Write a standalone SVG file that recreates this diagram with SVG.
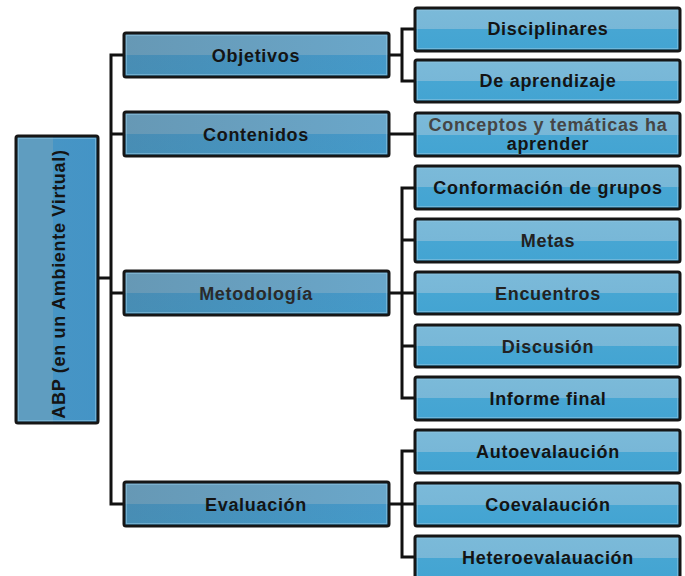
<svg xmlns="http://www.w3.org/2000/svg" width="685" height="576" viewBox="0 0 685 576">
<style>
.l1 { fill: url(#g1); stroke: #161616; stroke-width: 3; }
.l2 { fill: url(#g2); stroke: #161616; stroke-width: 3; }
.rt { fill: url(#gr); stroke: #161616; stroke-width: 3; }
.ins { fill: none; stroke: #8cc3e0; stroke-width: 1; opacity: 0.6; }
.sh { fill: url(#gh); }
.t { font-family: "Liberation Sans", Arial, sans-serif; font-weight: bold; font-size: 18px; letter-spacing: 0.7px; fill: #141414; text-anchor: middle; }
.c { fill: none; stroke: #111; stroke-width: 3; stroke-linecap: square; }
</style>
<defs>
<linearGradient id="g1" x1="0" y1="0" x2="0" y2="1">
<stop offset="0" stop-color="#6aa7ca"/><stop offset="0.5" stop-color="#6aa7ca"/>
<stop offset="0.5" stop-color="#4699c9"/><stop offset="1" stop-color="#449ac9"/>
</linearGradient>
<linearGradient id="g2" x1="0" y1="0" x2="0" y2="1">
<stop offset="0" stop-color="#7bbad9"/><stop offset="0.5" stop-color="#78b7d7"/>
<stop offset="0.5" stop-color="#47a6d3"/><stop offset="1" stop-color="#43a4d2"/>
</linearGradient>
<linearGradient id="gr" x1="0" y1="0" x2="1" y2="0">
<stop offset="0" stop-color="#5f9dc0"/><stop offset="0.45" stop-color="#5f9dc0"/>
<stop offset="0.45" stop-color="#4795c5"/><stop offset="1" stop-color="#4494c6"/>
</linearGradient>
<linearGradient id="gh" x1="0" y1="0" x2="1" y2="0">
<stop offset="0" stop-color="#555" stop-opacity="0.18"/><stop offset="1" stop-color="#555" stop-opacity="0"/>
</linearGradient>
</defs>

<g id="connectors">
<path class="c" d="M98 278H111M111 55V504M111 55H124M111 134H124M111 293H124M111 504H124"/>
<path class="c" d="M389 55H402M402 29V81M402 29H415M402 81H415"/>
<path class="c" d="M389 134H415"/>
<path class="c" d="M389 293H402M402 188V398M402 188H415M402 240H415M402 293H415M402 346H415M402 398H415"/>
<path class="c" d="M389 504H402M402 451V557M402 451H415M402 504H415M402 557H415"/>
</g>

<g id="root">
<rect class="rt" x="16" y="136" width="82" height="287" rx="2"/>
<rect class="ins" x="18.5" y="138.5" width="77" height="282"/>
<text class="t" letter-spacing="0.4" transform="translate(65,284) rotate(-90)">ABP (en un Ambiente Virtual)</text>
</g>

<g id="objetivos">
<rect class="l1" x="124" y="33" width="265" height="44" rx="2"/>
<rect class="sh" x="125.5" y="34.5" width="262" height="41"/>
<rect class="ins" x="126.5" y="35.5" width="260" height="39"/>
<text class="t" x="256" y="62">Objetivos</text>
</g>
<g id="contenidos">
<rect class="l1" x="124" y="112" width="265" height="44" rx="2"/>
<rect class="sh" x="125.5" y="113.5" width="262" height="41"/>
<rect class="ins" x="126.5" y="114.5" width="260" height="39"/>
<text class="t" x="256" y="141">Contenidos</text>
</g>
<g id="metodologia">
<rect class="l1" x="124" y="271" width="265" height="44" rx="2"/>
<rect class="sh" x="125.5" y="272.5" width="262" height="41"/>
<rect class="ins" x="126.5" y="273.5" width="260" height="39"/>
<text class="t" x="256" y="300" fill="#2a2a2a" style="fill:#2a2a2a">Metodología</text>
</g>
<g id="evaluacion">
<rect class="l1" x="124" y="482" width="265" height="44" rx="2"/>
<rect class="sh" x="125.5" y="483.5" width="262" height="41"/>
<rect class="ins" x="126.5" y="484.5" width="260" height="39"/>
<text class="t" x="256" y="511">Evaluación</text>
</g>

<g id="disciplinares">
<rect class="l2" x="415" y="8" width="265" height="43" rx="2"/>
<rect class="ins" x="417.5" y="10.5" width="260" height="38"/>
<text class="t" x="548" y="35">Disciplinares</text>
</g>
<g id="de-aprendizaje">
<rect class="l2" x="415" y="60" width="265" height="42" rx="2"/>
<rect class="ins" x="417.5" y="62.5" width="260" height="37"/>
<text class="t" x="548" y="87">De aprendizaje</text>
</g>
<g id="conceptos">
<rect class="l2" x="415" y="113" width="265" height="43" rx="2"/>
<rect class="ins" x="417.5" y="115.5" width="260" height="38"/>
<text class="t" x="548" y="131" style="fill:#454545">Conceptos y temáticas ha</text>
<text class="t" x="548" y="150">aprender</text>
</g>
<g id="conformacion">
<rect class="l2" x="415" y="166" width="265" height="43" rx="2"/>
<rect class="ins" x="417.5" y="168.5" width="260" height="38"/>
<text class="t" x="548" y="194">Conformación de grupos</text>
</g>
<g id="metas">
<rect class="l2" x="415" y="219" width="265" height="43" rx="2"/>
<rect class="ins" x="417.5" y="221.5" width="260" height="38"/>
<text class="t" x="548" y="247" style="fill:#222">Metas</text>
</g>
<g id="encuentros">
<rect class="l2" x="415" y="272" width="265" height="42" rx="2"/>
<rect class="ins" x="417.5" y="274.5" width="260" height="37"/>
<text class="t" x="548" y="299.5" style="fill:#222">Encuentros</text>
</g>
<g id="discusion">
<rect class="l2" x="415" y="325" width="265" height="42" rx="2"/>
<rect class="ins" x="417.5" y="327.5" width="260" height="37"/>
<text class="t" x="548" y="352.5" style="fill:#222">Discusión</text>
</g>
<g id="informe-final">
<rect class="l2" x="415" y="377" width="265" height="43" rx="2"/>
<rect class="ins" x="417.5" y="379.5" width="260" height="38"/>
<text class="t" x="548" y="405">Informe final</text>
</g>
<g id="autoevaluacion">
<rect class="l2" x="415" y="430" width="265" height="43" rx="2"/>
<rect class="ins" x="417.5" y="432.5" width="260" height="38"/>
<text class="t" x="548" y="458">Autoevalaución</text>
</g>
<g id="coevaluacion">
<rect class="l2" x="415" y="483" width="265" height="43" rx="2"/>
<rect class="ins" x="417.5" y="485.5" width="260" height="38"/>
<text class="t" x="548" y="511">Coevalaución</text>
</g>
<g id="heteroevaluacion">
<rect class="l2" x="415" y="536" width="265" height="43" rx="2"/>
<rect class="ins" x="417.5" y="538.5" width="260" height="38"/>
<text class="t" x="548" y="564">Heteroevalauación</text>
</g>
</svg>
